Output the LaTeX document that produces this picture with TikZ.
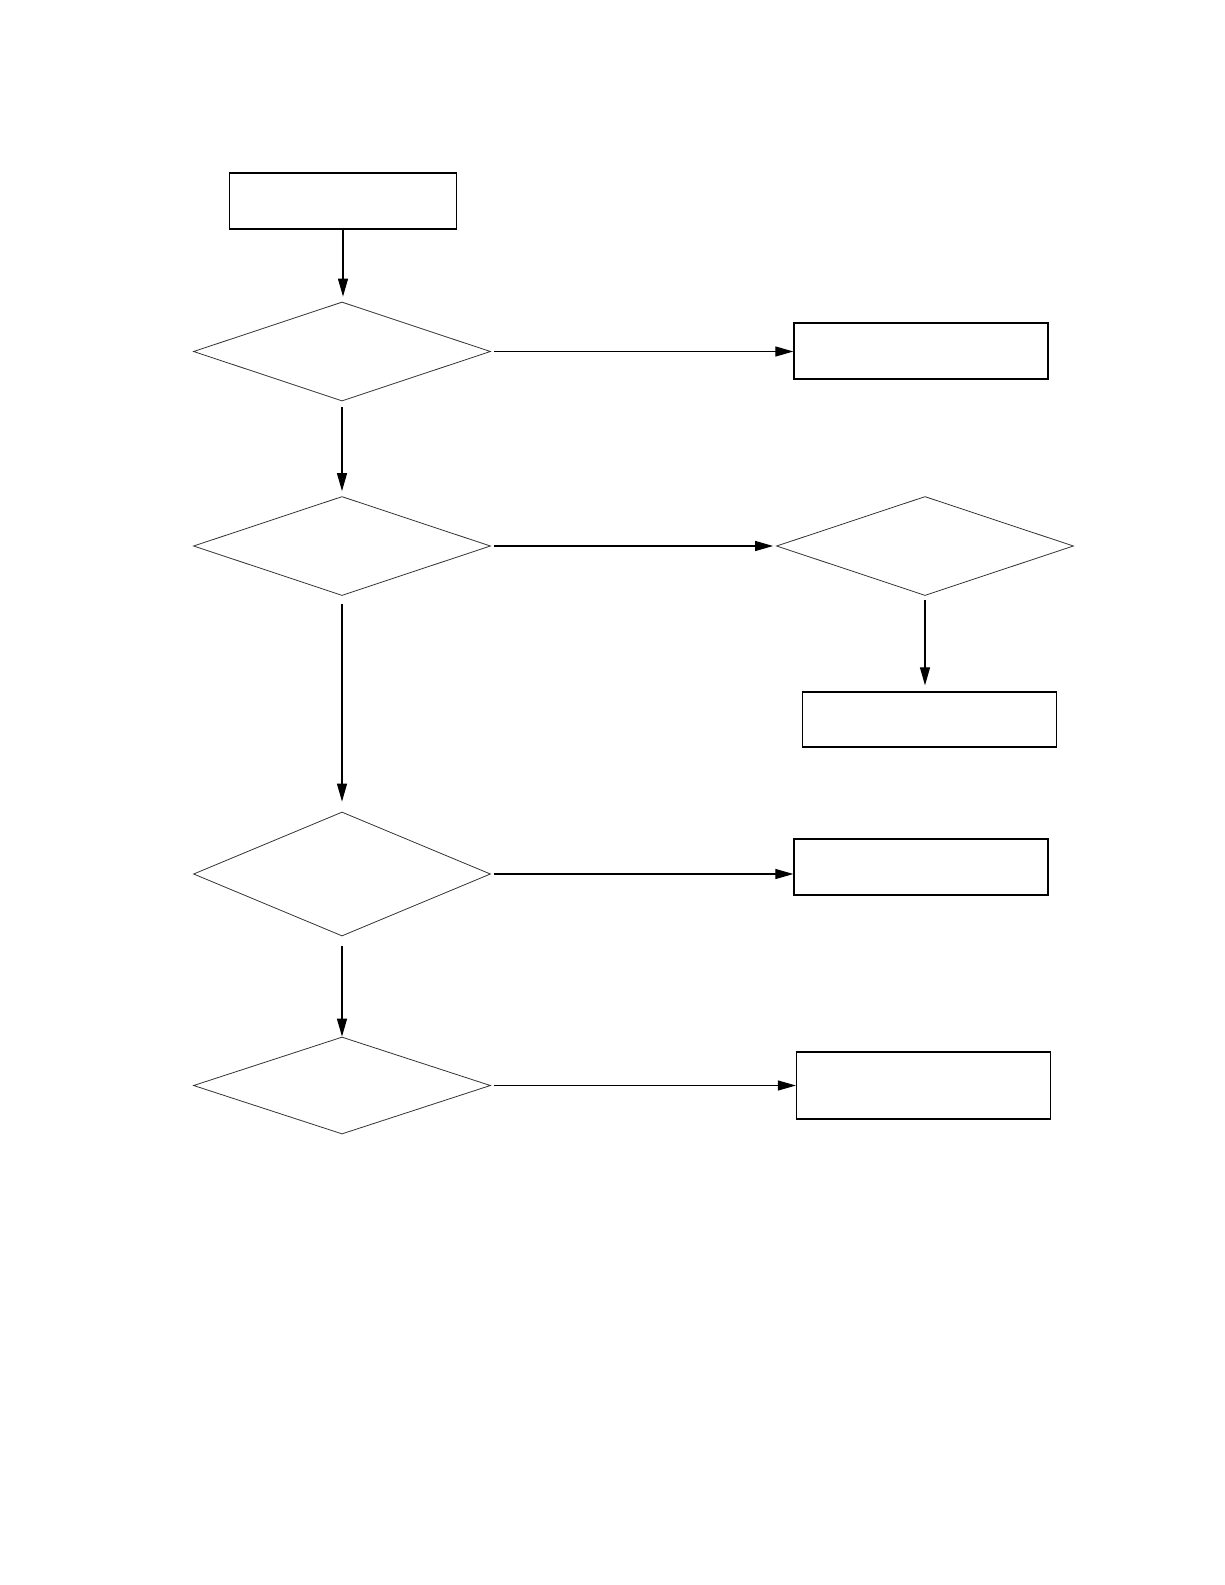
\documentclass[tikz,border=0pt]{standalone}
\usetikzlibrary{shapes.geometric,arrows.meta}
\begin{document}
\begin{tikzpicture}[
    x=0.5pt, y=-0.5pt,
    stepbox/.style={draw, line width=0.65pt, inner sep=0pt,
                    minimum width=127pt, minimum height=28pt},
    test/.style={draw, diamond, line width=0.4pt, draw=black!80, inner sep=0pt,
                 minimum width=148.5pt, minimum height=49.5pt},
    flow/.style={-{Triangle[length=9pt,width=5pt]}, line width=0.6pt},
  ]
    \useasboundingbox (0,0) rectangle (1225,1585);
    % left column
    \node[stepbox, minimum width=113.5pt] (start) at (343,201) {};
    \node[test] (t1) at (342,351.5) {};
    \node[test] (t2) at (342,546) {};
    \node[test, minimum height=62pt] (t4) at (342,874) {};
    \node[test, minimum height=48.5pt] (t5) at (342,1085.5) {};
    % right column
    \node[stepbox] (r1) at (921,351) {};
    \node[test] (t3) at (925,546) {};
    \node[stepbox, minimum height=27.5pt] (r2) at (929.5,719.5) {};
    \node[stepbox] (r3) at (921,867) {};
    \node[stepbox, minimum height=33.5pt] (r4) at (923.5,1085.5) {};

    \draw[flow, shorten >=2.5pt] (start.south) -- (start.south |- t1.north);
    \draw[flow, shorten <=1.5pt] (t1.east) -- (t1.east -| r1.west);
    \draw[flow, shorten <=3pt, shorten >=2.5pt] (t1.south) -- (t2.north);
    \draw[flow, shorten <=1.5pt, shorten >=1.5pt] (t2.east) -- (t2.east -| t3.west);
    \draw[flow, shorten <=2pt, shorten >=3pt] (t3.south) -- (t3.south |- r2.north);
    \draw[flow, shorten <=4pt, shorten >=5pt] (t2.south) -- (t4.north);
    \draw[flow, shorten <=1.5pt] (t4.east) -- (t4.east -| r3.west);
    \draw[flow, shorten <=5pt] (t4.south) -- (t5.north);
    \draw[flow, shorten <=1.5pt] (t5.east) -- (t5.east -| r4.west);
\end{tikzpicture}
\end{document}
